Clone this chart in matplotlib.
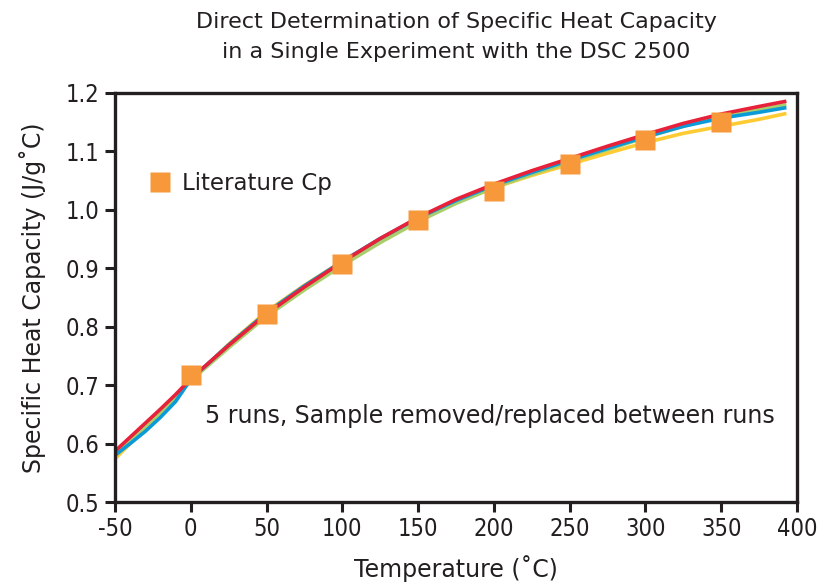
import matplotlib
matplotlib.use("Agg")
import matplotlib.pyplot as plt

# ---- data ----
temps = [-50, -40, -30, -20, -10, 0, 25, 50, 75, 100, 125, 150, 175, 200, 225,
         250, 275, 300, 325, 350, 375, 393]
run_red = [0.587, 0.611, 0.635, 0.659, 0.684, 0.711, 0.768, 0.822, 0.868, 0.911,
           0.951, 0.987, 1.018, 1.044, 1.067, 1.088, 1.109, 1.129, 1.148, 1.164,
           1.177, 1.186]
run_blue = [0.580, 0.600, 0.621, 0.645, 0.672, 0.710, 0.769, 0.824, 0.870, 0.912,
            0.951, 0.986, 1.016, 1.042, 1.064, 1.085, 1.105, 1.125, 1.143, 1.157,
            1.167, 1.175]
run_green = [0.580, 0.605, 0.630, 0.654, 0.680, 0.708, 0.764, 0.818, 0.863, 0.905,
             0.944, 0.980, 1.011, 1.038, 1.061, 1.082, 1.103, 1.124, 1.143, 1.160,
             1.172, 1.180]
run_yellow = [0.574, 0.600, 0.626, 0.652, 0.679, 0.708, 0.770, 0.826, 0.871, 0.912,
              0.950, 0.984, 1.013, 1.038, 1.059, 1.078, 1.097, 1.115, 1.131, 1.143,
              1.155, 1.165]

lit_temps = [0, 50, 100, 150, 200, 250, 300, 350]
lit_cp = [0.717, 0.821, 0.908, 0.983, 1.032, 1.078, 1.120, 1.151]

x_ticks = [-50, 0, 50, 100, 150, 200, 250, 300, 350, 400]
y_ticks = [0.5, 0.6, 0.7, 0.8, 0.9, 1.0, 1.1, 1.2]

text_font = 'DejaVu Sans'
txt = '#231F20'
plt.rcParams['font.family'] = [text_font]

fig = plt.figure(figsize=(8.21, 5.84), dpi=100)
ax = fig.add_axes([115/821, 82/584, 682/821, 409/584])

series = [(run_yellow, '#FFCB32'), (run_green, '#A8CF6B'),
          (run_blue, '#0A9AD8'), (run_red, '#E8213A')]
for vals, c in series:
    ax.plot(temps, vals, color=c, lw=2.6, solid_capstyle='butt',
            solid_joinstyle='round', zorder=2)

ax.plot(lit_temps, lit_cp, linestyle='none', marker='s', ms=15,
        color='#F7993A', mec='none', zorder=3, label='Literature Cp')

ax.set_xlim(-50, 400)
ax.set_ylim(0.5, 1.2)
ax.set_xticks(x_ticks)
ax.set_xticklabels([str(v) for v in x_ticks])
ax.set_yticks(y_ticks)
ax.set_yticklabels([f"{v:.1f}" for v in y_ticks])

for s in ax.spines.values():
    s.set_color(txt)
    s.set_linewidth(2.4)
ax.tick_params(axis='both', direction='out', length=7, width=2.2, color=txt,
               labelcolor=txt, labelsize=17, pad=4)
for lab in ax.get_xticklabels() + ax.get_yticklabels():
    lab.set_fontstretch('condensed')

ax.set_xlabel('Temperature (˚C)', fontsize=17, color=txt, labelpad=10)
ax.set_ylabel('Specific Heat Capacity (J/g˚C)', fontsize=17, color=txt, labelpad=14)

fig.text(456/821, 1 - 22/584, 'Direct Determination of Specific Heat Capacity',
         ha='center', va='center', fontsize=16, color=txt)
fig.text(456/821, 1 - 52/584, 'in a Single Experiment with the DSC 2500',
         ha='center', va='center', fontsize=16, color=txt)

ax.text(9.4, 0.647, '5 runs, Sample removed/replaced between runs',
        fontsize=17, color=txt, ha='left', va='center')

leg = ax.legend(loc='upper left', bbox_to_anchor=(0.033, 0.836), frameon=False,
                handlelength=1.0, handletextpad=0.45, borderpad=0, fontsize=16.5,
                labelcolor=txt)

fig.savefig('out.png', dpi=100)
